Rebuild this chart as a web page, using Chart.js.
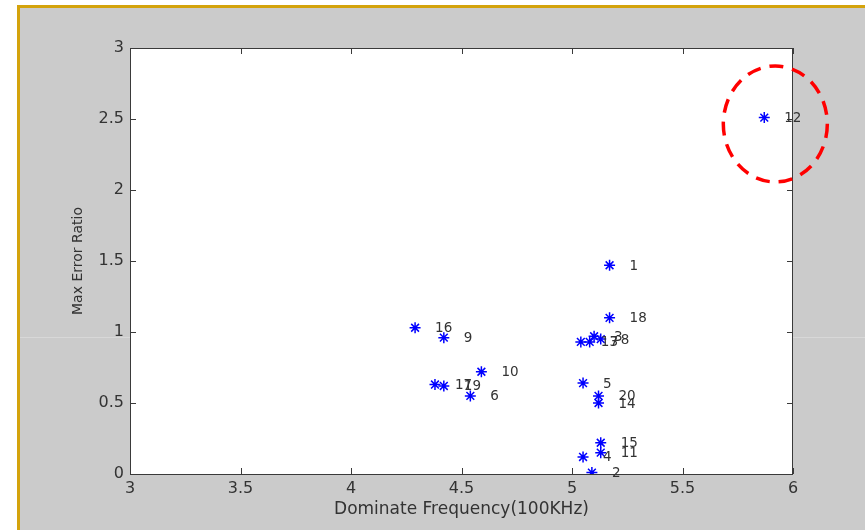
<!DOCTYPE html>
<html>
<head>
<meta charset="utf-8">
<script src="https://cdn.jsdelivr.net/npm/chart.js@4.4.1/dist/chart.umd.min.js"></script>
<style>
    html, body { margin: 0; padding: 0; background: #fff; }
    #wrap { position: relative; width: 865px; height: 530px; overflow: hidden; }
    #frame {
        position: absolute; left: 17px; top: 5px; width: 900px; height: 600px;
        background: #cbcbcb; border-left: 3px solid #d4a30c; border-top: 3px solid #d4a30c;
    }
    #seam { position: absolute; left: 20px; top: 337px; width: 900px; height: 1px; background: #d8d8d8; }
    #chart { position: absolute; left: 0; top: 0; }
</style>
</head>
<body>
<div id="wrap">
    <div id="frame"></div>
    <div id="seam"></div>
    <canvas id="chart" width="865" height="530"></canvas>
</div>
<script>
// case numbers and their measured values
const caseIds = [1, 2, 3, 4, 5, 6, 7, 8, 9, 10, 11, 12, 13, 14, 15, 16, 17, 18, 19, 20];
const freq = [5.17, 5.09, 5.10, 5.05, 5.05, 4.54, 5.08, 5.13, 4.42, 4.59,
              5.13, 5.87, 5.04, 5.12, 5.13, 4.29, 4.38, 5.17, 4.42, 5.12];
const errRatio = [1.47, 0.01, 0.97, 0.12, 0.64, 0.55, 0.93, 0.95, 0.96, 0.72,
                  0.15, 2.51, 0.93, 0.50, 0.22, 1.03, 0.63, 1.10, 0.62, 0.55];
const xTicks = [3, 3.5, 4, 4.5, 5, 5.5, 6];
const yTicks = [0, 0.5, 1, 1.5, 2, 2.5, 3];
// highlighted outlier (case 12), circle centre in data units
const highlight = { x: 5.92, y: 2.465 };

const points = caseIds.map((id, i) => ({ x: freq[i], y: errRatio[i], id: id }));

const FONT = '"DejaVu Sans", Verdana, sans-serif';

// white plot box, inward ticks, point labels, red dashed circle
const matlabLook = {
    id: 'matlabLook',
    beforeDatasetsDraw(chart) {
        const { ctx, chartArea: a } = chart;
        ctx.save();
        ctx.fillStyle = '#ffffff';
        ctx.fillRect(a.left, a.top, a.right - a.left, a.bottom - a.top);
        ctx.restore();
    },
    afterDatasetsDraw(chart) {
        const { ctx, chartArea: a, scales } = chart;
        ctx.save();
        // box
        ctx.strokeStyle = '#3a3a3a';
        ctx.lineWidth = 1;
        ctx.strokeRect(a.left + 0.5, a.top + 0.5, a.right - a.left - 1, a.bottom - a.top);
        // inward ticks
        ctx.beginPath();
        xTicks.forEach(v => {
            const px = Math.round(scales.x.getPixelForValue(v)) + 0.5;
            ctx.moveTo(px, a.bottom); ctx.lineTo(px, a.bottom - 6);
            ctx.moveTo(px, a.top); ctx.lineTo(px, a.top + 6);
        });
        yTicks.forEach(v => {
            const py = Math.round(scales.y.getPixelForValue(v)) + 0.5;
            ctx.moveTo(a.left, py); ctx.lineTo(a.left + 6, py);
            ctx.moveTo(a.right, py); ctx.lineTo(a.right - 6, py);
        });
        ctx.stroke();

        // case labels
        ctx.fillStyle = '#333';
        ctx.font = '13.5px ' + FONT;
        ctx.textBaseline = 'middle';
        points.forEach(p => {
            const px = scales.x.getPixelForValue(p.x);
            const py = scales.y.getPixelForValue(p.y);
            ctx.fillText(String(p.id), px + 20, py + 1);
        });

        // red dashed circle around the outlier
        const cx = scales.x.getPixelForValue(highlight.x);
        const cy = scales.y.getPixelForValue(highlight.y);
        ctx.strokeStyle = '#ff0000';
        ctx.lineWidth = 3.5;
        ctx.setLineDash([14, 9]);
        ctx.beginPath();
        ctx.ellipse(cx, cy, 52, 58, 0, 0, Math.PI * 2);
        ctx.stroke();
        ctx.restore();
    }
};

const tickFont = { family: FONT, size: 16 };

new Chart(document.getElementById('chart'), {
    type: 'scatter',
    data: {
        datasets: [{
            data: points,
            pointStyle: 'star',
            pointRadius: 5.5,
            pointBorderWidth: 1.5,
            borderColor: '#0000ff',
            backgroundColor: '#0000ff'
        }]
    },
    options: {
        responsive: false,
        animation: false,
        layout: { padding: { top: 48, right: 72, left: 0, bottom: 0 } },
        plugins: { legend: { display: false }, tooltip: { enabled: false } },
        scales: {
            x: {
                type: 'linear',
                min: 3, max: 6,
                afterBuildTicks: s => { s.ticks = xTicks.map(v => ({ value: v })); },
                afterFit: s => { s.height = 56; },
                grid: { display: false, drawTicks: false },
                border: { display: false },
                ticks: { color: '#333', font: tickFont, padding: 5, callback: v => String(v) },
                title: {
                    display: true, text: 'Dominate Frequency(100KHz)', color: '#333',
                    font: { family: FONT, size: 17 },
                    padding: { top: 0, bottom: 10 }
                }
            },
            y: {
                type: 'linear',
                min: 0, max: 3,
                afterBuildTicks: s => { s.ticks = yTicks.map(v => ({ value: v })); },
                afterFit: s => { s.width = 130; },
                grid: { display: false, drawTicks: false },
                border: { display: false },
                ticks: { color: '#333', font: tickFont, padding: 6, callback: v => String(v) },
                title: {
                    display: true, text: 'Max Error Ratio', color: '#333',
                    font: { family: FONT, size: 14 },
                    padding: { top: 70, bottom: 0 }
                }
            }
        }
    },
    plugins: [matlabLook]
});
</script>
</body>
</html>
